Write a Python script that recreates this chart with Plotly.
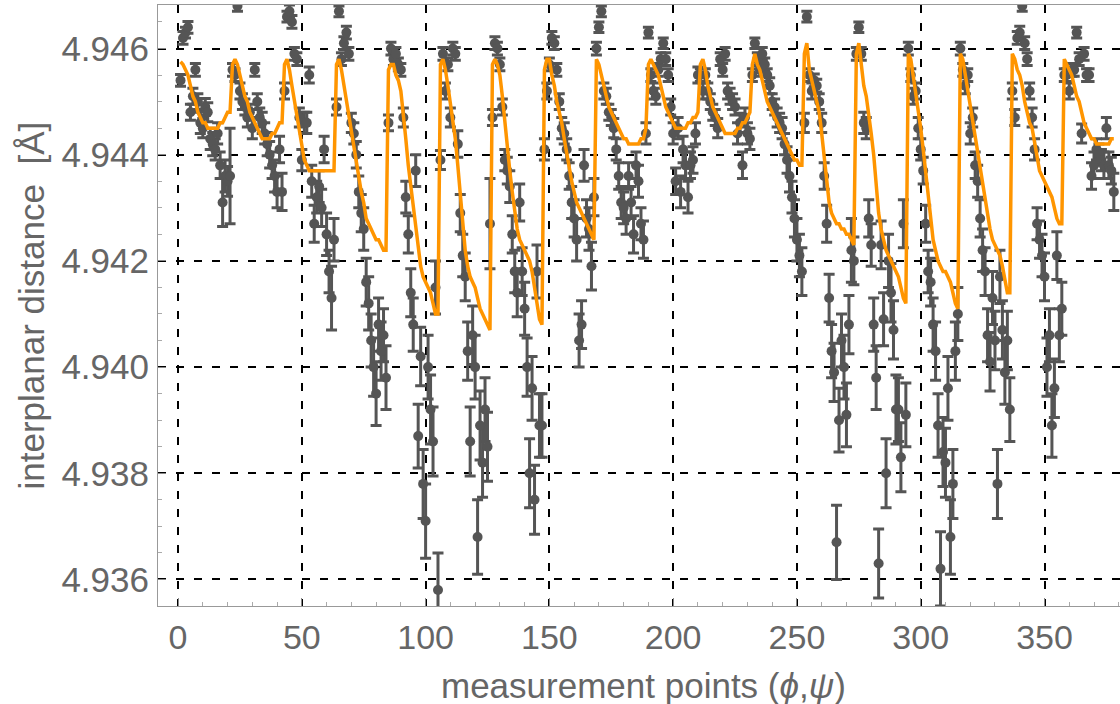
import plotly.graph_objects as go

# ---- measured interplanar distances, 18 groups (phi) x 21 points (psi) ----
d_g0 = [4.9454, 4.9462, 4.9463, 4.9464, 4.9448, 4.9451, 4.9456, 4.9450, 4.9446, 4.9445, 4.9449, 4.9448, 4.9443, 4.9442, 4.9441, 4.9444, 4.9438, 4.9431, 4.9436, 4.9435, 4.9436]
d_g1 = [4.9456, 4.9455, 4.9468, 4.9452, 4.9450, 4.9449, 4.9447, 4.9448, 4.9445, 4.9456, 4.9450, 4.9447, 4.9446, 4.9444, 4.9442, 4.9440, 4.9438, 4.9436, 4.9433, 4.9441, 4.9433]
d_g2 = [4.9452, 4.9466, 4.9467, 4.9465, 4.9459, 4.9458, 4.9447, 4.9439, 4.9446, 4.9446, 4.9455, 4.9435, 4.9427, 4.9432, 4.9434, 4.9430, 4.9441, 4.9425, 4.9418, 4.9413, 4.9424]
d_g3 = [4.9449, 4.9467, 4.9458, 4.9461, 4.9463, 4.9459, 4.9446, 4.9444, 4.9440, 4.9433, 4.9429, 4.9426, 4.9416, 4.9412, 4.9405, 4.9400, 4.9395, 4.9408, 4.9403, 4.9406, 4.9398]
d_g4 = [4.9446, 4.9460, 4.9458, 4.9459, 4.9457, 4.9456, 4.9447, 4.9432, 4.9425, 4.9414, 4.9408, 4.9437, 4.9387, 4.9402, 4.9378, 4.9371, 4.9400, 4.9392, 4.9386, 4.9415, 4.9358]
d_g5 = [4.9439, 4.9459, 4.9452, 4.9457, 4.9447, 4.9460, 4.9459, 4.9442, 4.9429, 4.9421, 4.9417, 4.9403, 4.9386, 4.9406, 4.9400, 4.9368, 4.9389, 4.9382, 4.9392, 4.9385, 4.9427]
d_g6 = [4.9447, 4.9461, 4.9460, 4.9457, 4.9449, 4.9439, 4.9437, 4.9434, 4.9425, 4.9418, 4.9414, 4.9431, 4.9418, 4.9411, 4.9400, 4.9380, 4.9396, 4.9375, 4.9418, 4.9389, 4.9389]
d_g7 = [4.9441, 4.9452, 4.9457, 4.9462, 4.9461, 4.9456, 4.9450, 4.9445, 4.9444, 4.9441, 4.9436, 4.9431, 4.9428, 4.9424, 4.9405, 4.9408, 4.9438, 4.9428, 4.9426, 4.9419, 4.9432]
d_g8 = [4.9460, 4.9464, 4.9467, 4.9452, 4.9451, 4.9448, 4.9447, 4.9445, 4.9441, 4.9436, 4.9431, 4.9430, 4.9428, 4.9436, 4.9431, 4.9425, 4.9438, 4.9435, 4.9427, 4.9424, 4.9444]
d_g9 = [4.9463, 4.9455, 4.9452, 4.9451, 4.9456, 4.9458, 4.9461, 4.9458, 4.9455, 4.9449, 4.9444, 4.9435, 4.9445, 4.9433, 4.9441, 4.9438, 4.9432, 4.9438, 4.9439, 4.9444, 4.9455]
d_g10 = [4.9455, 4.9452, 4.9455, 4.9452, 4.9450, 4.9448, 4.9447, 4.9445, 4.9458, 4.9456, 4.9459, 4.9452, 4.9451, 4.9450, 4.9449, 4.9444, 4.9446, 4.9438, 4.9447, 4.9444, 4.9443]
d_g11 = [4.9455, 4.9461, 4.9458, 4.9456, 4.9459, 4.9457, 4.9455, 4.9453, 4.9450, 4.9449, 4.9447, 4.9446, 4.9445, 4.9442, 4.9439, 4.9436, 4.9432, 4.9428, 4.9424, 4.9421, 4.9418]
d_g12 = [4.9446, 4.9466, 4.9455, 4.9452, 4.9454, 4.9453, 4.9450, 4.9446, 4.9436, 4.9427, 4.9413, 4.9403, 4.9399, 4.9367, 4.9390, 4.9405, 4.9400, 4.9391, 4.9408, 4.9422, 4.9420]
d_g13 = [4.9459, 4.9464, 4.9459, 4.9446, 4.9445, 4.9428, 4.9423, 4.9408, 4.9398, 4.9363, 4.9423, 4.9409, 4.9380, 4.9420, 4.9414, 4.9407, 4.9392, 4.9392, 4.9383, 4.9427, 4.9391]
d_g14 = [4.9460, 4.9455, 4.9451, 4.9452, 4.9445, 4.9441, 4.9437, 4.9427, 4.9418, 4.9416, 4.9408, 4.9403, 4.9389, 4.9362, 4.9384, 4.9382, 4.9396, 4.9368, 4.9378, 4.9403, 4.9410]
d_g15 = [4.9460, 4.9456, 4.9453, 4.9455, 4.9444, 4.9447, 4.9438, 4.9435, 4.9428, 4.9422, 4.9418, 4.9406, 4.9401, 4.9413, 4.9405, 4.9378, 4.9417, 4.9407, 4.9399, 4.9405, 4.9392]
d_g16 = [4.9452, 4.9447, 4.9462, 4.9463, 4.9468, 4.9461, 4.9458, 4.9452, 4.9447, 4.9441, 4.9427, 4.9424, 4.9421, 4.9417, 4.9400, 4.9406, 4.9389, 4.9396, 4.9421, 4.9406, 4.9411]
d_g17 = [4.9455, 4.9455, 4.9452, 4.9456, 4.9456, 4.9463, 4.9458, 4.9444, 4.9459, 4.9455, 4.9455, 4.9436, 4.9438, 4.9441, 4.9440, 4.9439, 4.9438, 4.9445, 4.9438, 4.9437, 4.9433]

# ---- error bar half-widths, in units of 1e-4 Angstrom ----
e_g0 = [1.1, 1.2, 1.0, 1.1, 1.5, 1.5, 1.2, 1.5, 2.0, 1.8, 1.6, 1.8, 2.0, 2.2, 2.0, 2.0, 2.5, 4.5, 3.0, 2.8, 9.0]
e_g1 = [1.2, 1.2, 1.0, 1.5, 1.5, 1.5, 1.8, 1.5, 2.0, 1.2, 1.5, 1.8, 2.0, 2.0, 2.2, 2.5, 2.5, 3.0, 3.0, 2.5, 3.5]
e_g2 = [1.5, 1.0, 1.2, 1.2, 1.2, 1.2, 1.8, 2.0, 2.0, 2.0, 1.5, 3.0, 3.5, 3.0, 3.0, 3.5, 2.5, 4.0, 4.0, 6.0, 4.0]
e_g3 = [1.5, 1.0, 1.2, 1.2, 1.2, 1.2, 1.8, 2.0, 2.5, 3.0, 3.5, 4.0, 4.5, 5.0, 5.0, 5.5, 6.0, 5.0, 5.5, 5.0, 6.0]
e_g4 = [1.5, 1.2, 1.2, 1.2, 1.2, 1.2, 1.8, 3.0, 3.5, 4.5, 5.0, 3.0, 6.0, 5.5, 6.5, 7.0, 6.0, 6.5, 6.5, 5.0, 7.0]
e_g5 = [1.8, 1.2, 1.5, 1.2, 1.8, 1.2, 1.2, 2.5, 3.5, 4.0, 4.5, 5.5, 6.5, 5.5, 6.0, 7.0, 6.5, 6.5, 6.0, 6.5, 8.5]
e_g6 = [1.5, 1.2, 1.2, 1.2, 1.5, 2.0, 2.5, 3.0, 3.5, 4.0, 4.5, 3.5, 4.5, 5.0, 5.5, 6.5, 6.0, 6.5, 5.0, 6.0, 6.0]
e_g7 = [2.0, 1.5, 1.2, 1.2, 1.2, 1.2, 1.5, 2.0, 2.0, 2.0, 2.5, 3.0, 3.5, 4.0, 5.0, 4.5, 3.0, 3.5, 4.0, 4.5, 3.5]
e_g8 = [1.2, 1.0, 1.0, 1.5, 1.5, 1.5, 1.5, 1.8, 2.0, 2.5, 3.0, 3.0, 3.0, 2.5, 3.0, 3.5, 2.5, 3.0, 3.0, 3.5, 2.0]
e_g9 = [1.0, 1.2, 1.5, 1.5, 1.2, 1.2, 1.0, 1.2, 1.2, 1.5, 2.0, 2.5, 2.0, 3.0, 2.5, 2.5, 3.0, 2.5, 2.5, 2.0, 1.5]
e_g10 = [1.2, 1.5, 1.2, 1.5, 1.5, 1.5, 1.5, 1.8, 1.2, 1.2, 1.2, 1.5, 1.5, 1.5, 1.5, 2.0, 1.8, 2.5, 1.8, 2.0, 2.0]
e_g11 = [1.2, 1.0, 1.2, 1.2, 1.2, 1.2, 1.2, 1.5, 1.5, 1.5, 1.8, 1.8, 2.0, 2.0, 2.5, 3.0, 3.0, 3.5, 4.0, 4.0, 4.5]
e_g12 = [1.8, 1.0, 1.2, 1.5, 1.2, 1.2, 1.5, 1.8, 2.5, 3.5, 4.5, 5.0, 5.5, 7.0, 6.0, 5.0, 6.0, 6.0, 5.5, 6.0, 4.5]
e_g13 = [1.2, 1.0, 1.2, 2.0, 2.0, 3.5, 4.0, 5.0, 6.0, 6.5, 4.5, 5.0, 6.5, 5.0, 5.5, 5.5, 6.5, 6.0, 6.5, 4.5, 6.0]
e_g14 = [1.2, 1.2, 1.5, 1.5, 2.0, 2.0, 2.5, 3.5, 4.0, 4.5, 5.0, 5.5, 6.0, 7.0, 6.5, 6.5, 6.0, 7.0, 6.5, 5.5, 5.0]
e_g15 = [1.2, 1.2, 1.5, 1.2, 2.0, 1.8, 2.5, 3.0, 3.5, 4.0, 4.5, 5.0, 5.5, 5.0, 5.5, 6.5, 5.0, 5.5, 6.0, 5.5, 6.0]
e_g16 = [1.5, 1.5, 1.2, 1.2, 1.0, 1.2, 1.2, 1.5, 1.8, 2.0, 3.0, 3.5, 4.0, 4.5, 5.5, 5.0, 6.0, 5.5, 4.5, 5.0, 5.0]
e_g17 = [1.2, 1.2, 1.5, 1.2, 1.2, 1.0, 1.2, 1.8, 1.2, 1.2, 1.2, 2.5, 2.5, 2.0, 2.0, 2.0, 2.5, 2.0, 2.5, 2.5, 3.5]

# ---- fitted model (orange curve) ----
f_g0 = [4.94575, 4.9457, 4.9456, 4.9455, 4.9453, 4.9451, 4.9450, 4.9448, 4.9447, 4.9446, 4.9446, 4.9445, 4.9445, 4.9445, 4.9445, 4.9445, 4.9446, 4.9446, 4.9447, 4.9448, 4.9448]
f_g1 = [4.9457, 4.9458, 4.9457, 4.9455, 4.9453, 4.9451, 4.9450, 4.9448, 4.9447, 4.9446, 4.9445, 4.9444, 4.9443, 4.9443, 4.9443, 4.9443, 4.9444, 4.9444, 4.9445, 4.9446, 4.9446]
f_g2 = [4.9457, 4.9458, 4.9456, 4.9453, 4.9450, 4.9447, 4.9444, 4.9441, 4.9439, 4.9438, 4.9437, 4.9437, 4.9437, 4.9437, 4.9437, 4.9437, 4.9437, 4.9437, 4.9437, 4.9437, 4.9437]
f_g3 = [4.9457, 4.9458, 4.9456, 4.9453, 4.9450, 4.9447, 4.9444, 4.9441, 4.9438, 4.9436, 4.9433, 4.9431, 4.9428, 4.9427, 4.9426, 4.9425, 4.9424, 4.9424, 4.9423, 4.9422, 4.9422]
f_g4 = [4.9456, 4.9457, 4.9457, 4.9455, 4.9454, 4.9452, 4.9448, 4.9443, 4.9438, 4.9434, 4.9430, 4.9426, 4.9423, 4.9419, 4.9417, 4.9416, 4.9415, 4.9414, 4.9412, 4.9410, 4.9410]
f_g5 = [4.9457, 4.9458, 4.9456, 4.9453, 4.9450, 4.9447, 4.9443, 4.9438, 4.9433, 4.9427, 4.9422, 4.9419, 4.9417, 4.9416, 4.9415, 4.9413, 4.9411, 4.9410, 4.9409, 4.9408, 4.9407]
f_g6 = [4.9457, 4.9458, 4.9457, 4.9455, 4.9451, 4.9446, 4.9442, 4.9437, 4.9433, 4.9429, 4.9426, 4.9424, 4.9423, 4.9422, 4.9421, 4.9420, 4.9418, 4.9415, 4.9412, 4.9409, 4.9408]
f_g7 = [4.9456, 4.9458, 4.9458, 4.9455, 4.9453, 4.9450, 4.9448, 4.9446, 4.9443, 4.9440, 4.9437, 4.9435, 4.9433, 4.9431, 4.9430, 4.9429, 4.9428, 4.9427, 4.9426, 4.9425, 4.9424]
f_g8 = [4.9458, 4.9457, 4.9455, 4.9453, 4.9451, 4.9449, 4.9448, 4.9447, 4.9446, 4.9445, 4.9444, 4.9443, 4.9443, 4.9442, 4.9442, 4.9442, 4.9442, 4.9442, 4.9443, 4.9443, 4.9445]
f_g9 = [4.9457, 4.9458, 4.9457, 4.9456, 4.9455, 4.9453, 4.9451, 4.9449, 4.9448, 4.9447, 4.9446, 4.9445, 4.9445, 4.9445, 4.9445, 4.9445, 4.9446, 4.9446, 4.9447, 4.9447, 4.9448]
f_g10 = [4.9457, 4.9458, 4.9456, 4.9453, 4.9451, 4.9449, 4.9448, 4.9447, 4.9446, 4.9445, 4.9444, 4.9444, 4.9444, 4.9444, 4.9444, 4.9445, 4.9445, 4.9446, 4.9446, 4.9447, 4.9448]
f_g11 = [4.9457, 4.9459, 4.9457, 4.9456, 4.9454, 4.9452, 4.9450, 4.9449, 4.9448, 4.9447, 4.9446, 4.9445, 4.9444, 4.9443, 4.9442, 4.9441, 4.9440, 4.9439, 4.9439, 4.9438, 4.9438]
f_g12 = [4.9459, 4.9461, 4.9456, 4.9454, 4.9452, 4.9450, 4.9448, 4.9444, 4.9440, 4.9435, 4.9431, 4.9429, 4.9428, 4.9427, 4.9427, 4.9426, 4.9426, 4.9425, 4.9425, 4.9424, 4.9423]
f_g13 = [4.9459, 4.9461, 4.9457, 4.9453, 4.9451, 4.9448, 4.9444, 4.9440, 4.9434, 4.9429, 4.9426, 4.9424, 4.9422, 4.9421, 4.9420, 4.9419, 4.9418, 4.9417, 4.9415, 4.9413, 4.9412]
f_g14 = [4.9459, 4.9458, 4.9455, 4.9452, 4.9449, 4.9445, 4.9441, 4.9437, 4.9433, 4.9428, 4.9424, 4.9422, 4.9420, 4.9419, 4.9418, 4.9418, 4.9417, 4.9416, 4.9414, 4.9412, 4.9411]
f_g15 = [4.9459, 4.9458, 4.9455, 4.9452, 4.9449, 4.9446, 4.9443, 4.9440, 4.9437, 4.9434, 4.9431, 4.9428, 4.9426, 4.9424, 4.9423, 4.9422, 4.9421, 4.9419, 4.9416, 4.9414, 4.9414]
f_g16 = [4.9459, 4.9458, 4.9456, 4.9455, 4.9453, 4.9450, 4.9448, 4.9446, 4.9445, 4.9442, 4.9439, 4.9437, 4.9436, 4.9435, 4.9434, 4.9433, 4.9432, 4.9430, 4.9428, 4.9427, 4.9427]
f_g17 = [4.9458, 4.9457, 4.9456, 4.9455, 4.9453, 4.9451, 4.9450, 4.9448, 4.9446, 4.9445, 4.9444, 4.9443, 4.9443, 4.9442, 4.9442, 4.9442, 4.9442, 4.9442, 4.9442, 4.9443, 4.9443]

x_ticks = [0, 50, 100, 150, 200, 250, 300, 350]
y_ticks = [4.936, 4.938, 4.940, 4.942, 4.944, 4.946]
y_tick_labels = ["4.936", "4.938", "4.940", "4.942", "4.944", "4.946"]

d_groups = [d_g0, d_g1, d_g2, d_g3, d_g4, d_g5, d_g6, d_g7, d_g8, d_g9,
            d_g10, d_g11, d_g12, d_g13, d_g14, d_g15, d_g16, d_g17]
e_groups = [e_g0, e_g1, e_g2, e_g3, e_g4, e_g5, e_g6, e_g7, e_g8, e_g9,
            e_g10, e_g11, e_g12, e_g13, e_g14, e_g15, e_g16, e_g17]
f_groups = [f_g0, f_g1, f_g2, f_g3, f_g4, f_g5, f_g6, f_g7, f_g8, f_g9,
            f_g10, f_g11, f_g12, f_g13, f_g14, f_g15, f_g16, f_g17]

d_all = [v for g in d_groups for v in g]
e_all = [v * 1e-4 for g in e_groups for v in g]
f_all = [v for g in f_groups for v in g]
x_all = list(range(1, len(d_all) + 1))

GRAY = "#555555"
TXT = "#666666"
FONT = "Liberation Sans, Arial, sans-serif"

fig = go.Figure()
fig.add_trace(go.Scatter(
    x=x_all, y=d_all, mode="markers",
    marker=dict(size=10, color=GRAY),
    error_y=dict(type="data", array=e_all, color=GRAY, thickness=3, width=5.5),
    showlegend=False,
))
fig.add_trace(go.Scatter(
    x=x_all, y=f_all, mode="lines",
    line=dict(color="#FF9500", width=3.5),
    showlegend=False,
))

grid = dict(showgrid=True, gridcolor="black", gridwidth=1.6, griddash="8px,10px")

fig.update_xaxes(
    range=[-8.1, 380.5], tickvals=x_ticks, ticks="inside", ticklen=8, tickwidth=1,
    tickcolor="#888", showline=True, linecolor="#999", linewidth=1, mirror=True,
    zeroline=False, automargin=False, tickfont=dict(size=34, color=TXT, family=FONT),
    minor=dict(ticks="inside", ticklen=4, dtick=10, tick0=0, tickcolor="#aaa", showgrid=False),
    ticklabelstandoff=1, **grid,
)
fig.update_yaxes(
    range=[4.93550, 4.94682], tickvals=y_ticks, ticktext=y_tick_labels,
    ticks="inside", ticklen=8, tickwidth=1, tickcolor="#888",
    showline=True, linecolor="#999", linewidth=1, mirror=True, zeroline=False,
    automargin=False, tickfont=dict(size=35, color=TXT, family=FONT),
    minor=dict(ticks="inside", ticklen=4, dtick=0.0005, tick0=4.936, tickcolor="#aaa", showgrid=False),
    ticklabelstandoff=1, **grid,
)

fig.update_layout(
    width=1120, height=704,
    margin=dict(l=158, r=0, t=5, b=98, autoexpand=False),
    paper_bgcolor="white", plot_bgcolor="white",
    font=dict(family=FONT, color=TXT),
    annotations=[
        dict(text="measurement points (<i>ϕ</i>,<i>ψ</i>)", xref="paper", yref="paper",
             x=0.505, y=0, xanchor="center", yanchor="middle", yshift=-79,
             showarrow=False, font=dict(size=35, color=TXT, family=FONT)),
        dict(text="interplanar distance  [Å]", xref="paper", yref="paper",
             x=-0.131, y=0.5, xanchor="center", yanchor="middle", textangle=-90,
             showarrow=False, font=dict(size=35, color=TXT, family=FONT)),
    ],
)

fig.write_html(
    "out.html",
    config={"displayModeBar": False},
    post_script="document.body.style.margin='0';document.body.style.overflow='hidden';",
)
